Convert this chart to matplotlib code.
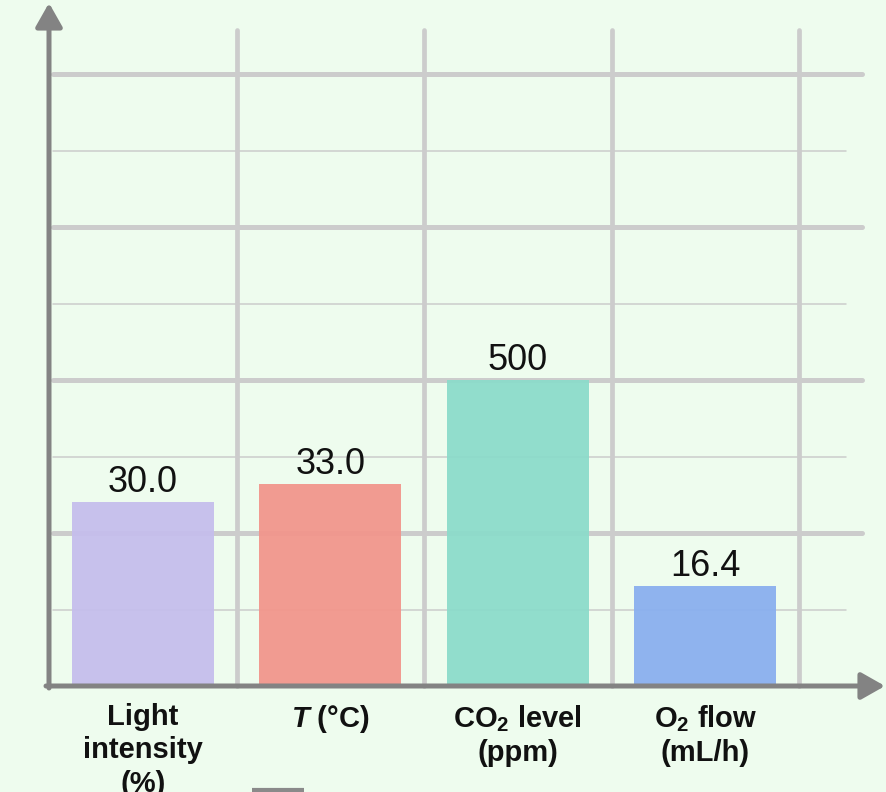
import matplotlib
matplotlib.use("Agg")
import matplotlib.pyplot as plt

# ---- data ----
categories = ["Light\nintensity\n(%)", "$T$ (°C)", "CO$_2$ level\n(ppm)", "O$_2$ flow\n(mL/h)"]
value_labels = ["30.0", "33.0", "500", "16.4"]
bar_heights = [1.20, 1.32, 2.00, 0.656]   # displayed (normalised) heights
bar_colors = ["#C5BEEC", "#F2958B", "#8BDBCA", "#89AFEF"]
major_levels = [1, 2, 3, 4]
minor_levels = [0.5, 1.5, 2.5, 3.5]
v_grid = [1, 2, 3, 4]

plt.rcParams["font.family"] = ["Liberation Sans", "DejaVu Sans"]
plt.rcParams["mathtext.fontset"] = "custom"
plt.rcParams["mathtext.rm"] = "Liberation Sans:bold"
plt.rcParams["mathtext.bf"] = "Liberation Sans:bold"
plt.rcParams["mathtext.it"] = "Liberation Sans:italic:bold"

BG = "#EEFCEE"
GRID = "#CCCCCC"
AXC = "#838383"

W, H, DPI = 886, 792, 100
fig = plt.figure(figsize=(W / DPI, H / DPI), dpi=DPI, facecolor=BG)
ax = fig.add_axes([0, 0, 1, 1])
ax.set_facecolor(BG)

# pixel mapping: x=0 at px 49, 187.5 px per unit; y=0 at px 686, 153 px per unit
x0, xs = 49, 187.5
y0, ys = 686, 153.0
ax.set_xlim(-x0 / xs, (W - x0) / xs)
ax.set_ylim(-(H - y0) / ys, y0 / ys)
ax.axis("off")

xright_major = (862 - x0) / xs
xright_minor = (846 - x0) / xs
xleft_grid = (53 - x0) / xs
ytop_v = (y0 - 30) / ys

for lv in minor_levels:
    ax.plot([xleft_grid, xright_minor], [lv, lv], color=GRID, lw=1.1,
            solid_capstyle="round", zorder=1)
for lv in major_levels:
    ax.plot([xleft_grid, xright_major], [lv, lv], color=GRID, lw=3.6,
            solid_capstyle="round", zorder=1)
for gx in v_grid:
    ax.plot([gx, gx], [0, ytop_v], color=GRID, lw=3.4,
            solid_capstyle="round", zorder=1)

xpos = [i + 0.5 for i in range(len(categories))]
ax.bar(xpos, bar_heights, width=142 / xs, color=bar_colors, alpha=0.94,
       zorder=2, linewidth=0)

for x, h, lab in zip(xpos, bar_heights, value_labels):
    ax.text(x, h + 10 / ys, lab, ha="center", va="baseline", fontsize=26,
            color="#111111", zorder=4)

for x, lab in zip(xpos, categories):
    ax.text(x, -17 / ys, lab, ha="center", va="top", fontsize=21,
            fontweight="bold", color="#111111", linespacing=1.24, zorder=4)

# axes with arrows
arrow_kw = dict(arrowstyle="-|>,head_length=0.6,head_width=0.34",
                color=AXC, lw=3.6, mutation_scale=24, shrinkA=0, shrinkB=0)
ax.annotate("", xy=(0, (y0 - 3) / ys), xytext=(0, -2 / ys),
            arrowprops=arrow_kw, zorder=5)
ax.annotate("", xy=((885 - x0) / xs, 0), xytext=(-3 / xs, 0),
            arrowprops=arrow_kw, zorder=5)

# small grey mark cut at bottom
ax.plot([(252 - x0) / xs, (304 - x0) / xs], [-(790 - y0) / ys] * 2,
        color="#8A8A8A", lw=3, solid_capstyle="butt", zorder=3)

fig.savefig("out.png", dpi=DPI, facecolor=BG)
